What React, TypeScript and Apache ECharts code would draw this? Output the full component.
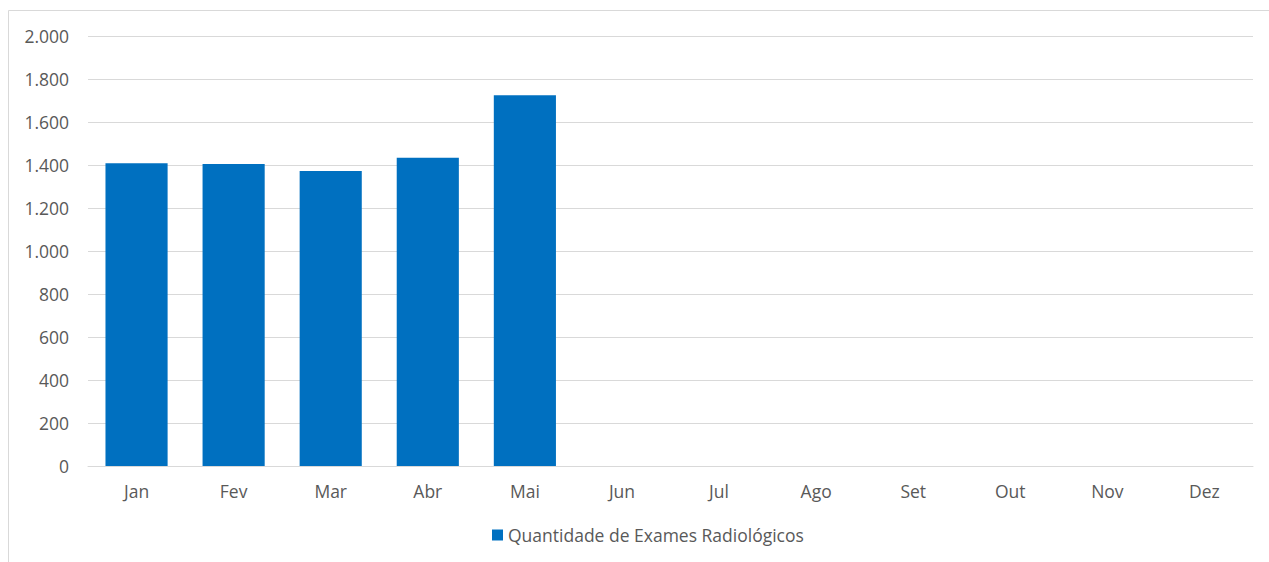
import React, { useEffect, useRef } from "react";
import * as echarts from "echarts";

const months = ["Jan", "Fev", "Mar", "Abr", "Mai", "Jun", "Jul", "Ago", "Set", "Out", "Nov", "Dez"];
const exames = [1408, 1405, 1372, 1434, 1724, null, null, null, null, null, null, null];
const seriesName = "Quantidade de Exames Radiológicos";

const fmt = (v: number) => {
  const s = String(Math.round(v));
  return s.replace(/\B(?=(\d{3})+(?!\d))/g, ".");
};

export default function App() {
  const ref = useRef<HTMLDivElement>(null);
  useEffect(() => {
    if (!ref.current) return;
    const chart = echarts.init(ref.current, null, { renderer: "svg" });
    const font = "'Open Sans', 'Noto Sans', sans-serif";
    chart.setOption({
      animation: false,
      backgroundColor: "#ffffff",
      textStyle: { fontFamily: font },
      graphic: [
        {
          type: "rect",
          shape: { x: 8.5, y: 10.5, width: 1300, height: 600 },
          style: { fill: "none", stroke: "#d9d9d9", lineWidth: 1 },
          silent: true,
        },
      ],
      grid: { left: 88, right: 16, top: 36, bottom: 96, containLabel: false },
      legend: {
        data: [seriesName],
        bottom: 13,
        left: 487,
        itemWidth: 11,
        itemHeight: 11,
        itemGap: 5,
        icon: "rect",
        textStyle: { color: "#595959", fontSize: 17.5, fontFamily: font },
      },
      xAxis: {
        type: "category",
        data: months,
        axisLine: { show: true, lineStyle: { color: "#d9d9d9", width: 1 } },
        axisTick: { show: false },
        axisLabel: { color: "#595959", fontSize: 17.5, margin: 16, fontFamily: font },
      },
      yAxis: {
        type: "value",
        min: 0,
        max: 2000,
        interval: 200,
        axisLine: { show: false },
        axisTick: { show: false },
        splitLine: { lineStyle: { color: "#d9d9d9", width: 1 } },
        axisLabel: { color: "#595959", fontSize: 17.5, margin: 19, formatter: fmt, fontFamily: font },
      },
      series: [
        {
          name: seriesName,
          type: "bar",
          data: exames,
          barCategoryGap: "36%",
          itemStyle: { color: "#0070C0" },
        },
      ],
    });
    return () => chart.dispose();
  }, []);
  return (
    <div
      ref={ref}
      style={{ position: "fixed", left: 0, top: 0, width: 1269, height: 562 }}
    />
  );
}
